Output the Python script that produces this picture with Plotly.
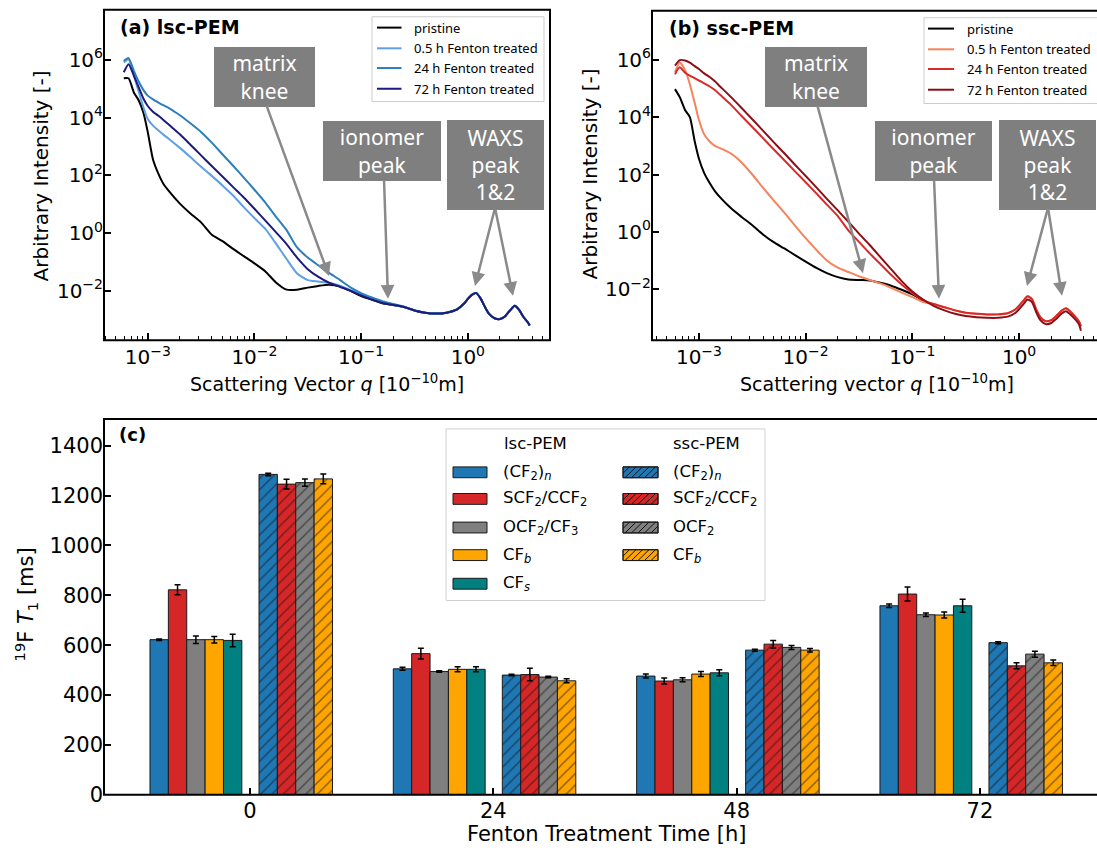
import plotly.graph_objects as go

W, H = 1097, 858

# ---------------- SAXS / WAXS curves ----------------
# scattering vector q [1e-10 m]
q = [5.96e-4, 6.61e-4, 7.41e-4, 8.22e-4, 9.12e-4, 1.00e-3, 1.12e-3, 1.26e-3, 1.41e-3, 1.58e-3,
     2.00e-3, 2.51e-3, 3.16e-3, 3.98e-3, 5.01e-3, 6.31e-3, 7.94e-3, 1.00e-2, 1.26e-2, 1.58e-2,
     2.00e-2, 2.51e-2, 3.16e-2, 3.98e-2, 5.01e-2, 6.31e-2, 7.94e-2,
     0.100, 0.126, 0.158, 0.200, 0.251, 0.316, 0.398, 0.501, 0.631, 0.794,
     0.912, 1.00, 1.10, 1.20, 1.32, 1.45, 1.58, 1.78, 2.00, 2.24,
     2.51, 2.75, 3.02, 3.31, 3.63, 3.80]

# log10 of the arbitrary intensity, lsc-PEM
logI_lsc_pristine = [5.36, 5.36, 4.87, 4.60, 4.16, 3.50, 2.55, 2.05, 1.69, 1.45,
                     1.02, 0.68, 0.37, -0.06, -0.28, -0.55, -0.80, -1.05, -1.32, -1.70,
                     -1.96, -1.96, -1.89, -1.83, -1.79, -1.84, -2.00,
                     -2.18, -2.31, -2.43, -2.49, -2.56, -2.68, -2.76, -2.79, -2.76, -2.64,
                     -2.46, -2.28, -2.13, -2.08, -2.27, -2.57, -2.80, -2.95, -2.98, -2.88,
                     -2.66, -2.52, -2.66, -2.90, -3.08, -3.20]
logI_lsc_05h = [5.91, 6.02, 5.45, 4.90, 4.35, 3.95, 3.72, 3.55, 3.40, 3.26,
                2.95, 2.63, 2.30, 1.98, 1.65, 1.30, 0.90, 0.52, 0.15, -0.35,
                -0.90, -1.40, -1.63, -1.68, -1.73, -1.82, -1.98,
                -2.13, -2.28, -2.41, -2.48, -2.56, -2.68, -2.76, -2.79, -2.76, -2.64,
                -2.46, -2.28, -2.13, -2.08, -2.27, -2.57, -2.80, -2.95, -2.98, -2.88,
                -2.66, -2.52, -2.66, -2.90, -3.08, -3.20]
logI_lsc_24h = [5.96, 6.06, 5.62, 5.25, 4.95, 4.76, 4.63, 4.52, 4.42, 4.33,
                4.08, 3.80, 3.50, 3.13, 2.73, 2.33, 1.92, 1.50, 1.06, 0.58,
                0.10, -0.50, -0.85, -1.12, -1.38, -1.62, -1.88,
                -2.08, -2.23, -2.36, -2.46, -2.54, -2.68, -2.76, -2.79, -2.76, -2.64,
                -2.46, -2.28, -2.13, -2.08, -2.27, -2.57, -2.80, -2.95, -2.98, -2.88,
                -2.66, -2.52, -2.66, -2.90, -3.08, -3.20]
logI_lsc_72h = [5.57, 5.85, 5.45, 5.05, 4.65, 4.40, 4.20, 4.06, 3.91, 3.75,
                3.42, 3.06, 2.69, 2.32, 1.96, 1.59, 1.23, 0.84, 0.44, 0.04,
                -0.38, -0.85, -1.25, -1.52, -1.72, -1.86, -2.00,
                -2.16, -2.30, -2.42, -2.49, -2.56, -2.68, -2.76, -2.79, -2.76, -2.64,
                -2.46, -2.28, -2.13, -2.08, -2.27, -2.57, -2.80, -2.95, -2.98, -2.88,
                -2.66, -2.52, -2.66, -2.90, -3.08, -3.20]

# log10 of the arbitrary intensity, ssc-PEM (pristine scan stops at q ~ 0.13)
logI_ssc_pristine = [4.98, 4.70, 4.25, 4.00, 3.16, 2.55, 2.05, 1.70, 1.42, 1.20,
                     0.82, 0.52, 0.23, -0.09, -0.36, -0.58, -0.81, -1.04, -1.26, -1.44,
                     -1.58, -1.66, -1.68, -1.70, -1.78, -1.88, -2.02, -2.18, -2.40]
logI_ssc_05h = [5.57, 5.91, 5.65, 5.15, 4.50, 3.90, 3.40, 3.15, 3.00, 2.92,
                2.73, 2.42, 2.00, 1.54, 1.10, 0.67, 0.22, -0.22, -0.63, -1.00,
                -1.25, -1.40, -1.55, -1.68, -1.80, -1.95, -2.12, -2.28, -2.45,
                -2.52, -2.63, -2.74, -2.82, -2.86, -2.88, -2.88, -2.83, -2.72, -2.58,
                -2.40, -2.25, -2.35, -2.72, -2.98, -3.12, -3.08, -2.93, -2.75, -2.67,
                -2.78, -2.93, -3.12, -3.30]
logI_ssc_24h = [5.50, 5.74, 5.55, 5.45, 5.36, 5.28, 5.18, 5.07, 4.95, 4.78,
                4.43, 4.04, 3.66, 3.27, 2.88, 2.50, 2.11, 1.73, 1.34, 0.95,
                0.55, 0.05, -0.35, -0.75, -1.12, -1.50, -1.84, -2.14, -2.38,
                -2.52, -2.63, -2.74, -2.82, -2.86, -2.88, -2.88, -2.83, -2.72, -2.58,
                -2.40, -2.25, -2.35, -2.72, -2.98, -3.12, -3.08, -2.93, -2.75, -2.67,
                -2.78, -2.93, -3.12, -3.30]
logI_ssc_72h = [5.80, 5.99, 5.98, 5.90, 5.78, 5.68, 5.53, 5.40, 5.25, 5.07,
                4.70, 4.32, 3.93, 3.53, 3.13, 2.74, 2.34, 1.95, 1.55, 1.15,
                0.75, 0.35, -0.06, -0.46, -0.88, -1.30, -1.72, -2.08, -2.36,
                -2.58, -2.74, -2.86, -2.94, -2.98, -3.00, -3.00, -2.95, -2.84, -2.70,
                -2.52, -2.36, -2.45, -2.82, -3.08, -3.22, -3.18, -3.03, -2.85, -2.77,
                -2.88, -3.03, -3.22, -3.45]

saxs_labels = ["pristine", "0.5 h Fenton treated", "24 h Fenton treated", "72 h Fenton treated"]
lsc_colors = ["#000000", "#5f9fe8", "#2a7fbc", "#1b1b7c"]
ssc_colors = ["#000000", "#f5845c", "#d92a2a", "#8c0f15"]

# ---------------- 19F T1 relaxation ----------------
times = ["0", "24", "48", "72"]

lsc_names = ["(CF<sub>2</sub>)<sub><i>n</i></sub>", "SCF<sub>2</sub>/CCF<sub>2</sub>",
             "OCF<sub>2</sub>/CF<sub>3</sub>", "CF<sub><i>b</i></sub>", "CF<sub><i>s</i></sub>"]
lsc_T1 = [[622, 505, 476, 758],
          [822, 566, 456, 805],
          [622, 494, 461, 722],
          [622, 503, 484, 721],
          [619, 503, 489, 758]]
lsc_err = [[3, 6, 8, 7],
           [20, 22, 12, 28],
           [15, 3, 8, 7],
           [13, 10, 10, 12],
           [25, 10, 12, 26]]

ssc_names = ["(CF<sub>2</sub>)<sub><i>n</i></sub>", "SCF<sub>2</sub>/CCF<sub>2</sub>",
             "OCF<sub>2</sub>", "CF<sub><i>b</i></sub>"]
ssc_T1 = [[1285, 480, 580, 610],
          [1246, 482, 604, 517],
          [1252, 472, 591, 564],
          [1267, 457, 580, 529]]
ssc_err = [[5, 3, 4, 4],
           [20, 25, 15, 12],
           [15, 3, 8, 12],
           [20, 8, 7, 11]]

bar_colors = ["#1f77b4", "#d62728", "#7f7f7f", "#ffa500", "#008080"]


# ---------------- helpers (pixel -> paper) ----------------
def fx(x):
    return x / W


def fy(y):
    return 1 - y / H


FONT = "DejaVu Sans"
fig = go.Figure()

# SAXS traces
for logs, col, nm in zip([logI_lsc_pristine, logI_lsc_05h, logI_lsc_24h, logI_lsc_72h],
                         lsc_colors, saxs_labels):
    fig.add_trace(go.Scatter(x=q[:len(logs)], y=[10 ** v for v in logs], mode="lines",
                             line=dict(color=col, width=2, shape="spline", smoothing=0.6),
                             name=nm, xaxis="x", yaxis="y"))
for logs, col, nm in zip([logI_ssc_pristine, logI_ssc_05h, logI_ssc_24h, logI_ssc_72h],
                         ssc_colors, saxs_labels):
    fig.add_trace(go.Scatter(x=q[:len(logs)], y=[10 ** v for v in logs], mode="lines",
                             line=dict(color=col, width=2, shape="spline", smoothing=0.6),
                             name=nm, xaxis="x2", yaxis="y2"))

# T1 bars
bar_w = 0.0755
lsc_left = -0.411
ssc_left = 0.037
for j, (vals, errs) in enumerate(zip(lsc_T1, lsc_err)):
    xs = [i + lsc_left + bar_w * (j + 0.5) for i in range(len(times))]
    fig.add_trace(go.Bar(x=xs, y=vals, width=bar_w, xaxis="x3", yaxis="y3", textposition="none",
                         marker=dict(color=bar_colors[j], line=dict(color="#1a1a1a", width=1)),
                         error_y=dict(type="data", array=errs, color="black", thickness=1.5, width=3)))
for j, (vals, errs) in enumerate(zip(ssc_T1, ssc_err)):
    xs = [i + ssc_left + bar_w * (j + 0.5) for i in range(len(times))]
    fig.add_trace(go.Bar(x=xs, y=vals, width=bar_w, xaxis="x3", yaxis="y3", textposition="none",
                         marker=dict(color=bar_colors[j], line=dict(color="#1a1a1a", width=1),
                                     pattern=dict(shape="/", fgcolor="#111111", bgcolor=bar_colors[j],
                                                  fillmode="overlay", size=8, solidity=0.18)),
                         error_y=dict(type="data", array=errs, color="black", thickness=1.5, width=3)))

# ---------------- axes ----------------
sup = lambda e: "10<sup>%s</sup>" % e.replace("-", "\u2212")
minor_q = [m * 10.0 ** k for k in range(-4, 1) for m in range(2, 10)]
tickfont_saxs = dict(family=FONT, size=20, color="black")


def log_x(dom, rng, anchor):
    return dict(type="log", domain=dom, range=rng, anchor=anchor, showgrid=False, zeroline=False,
                showline=False, ticks="inside", ticklen=7, tickwidth=1.5, tickcolor="black",
                tickvals=[1e-3, 1e-2, 1e-1, 1], ticktext=[sup("-3"), sup("-2"), sup("-1"), sup("0")],
                tickfont=tickfont_saxs, ticklabelstandoff=3,
                minor=dict(tickvals=minor_q, ticks="inside", ticklen=4, tickwidth=1, tickcolor="black"))


def log_y(dom, rng, anchor):
    return dict(type="log", domain=dom, range=rng, anchor=anchor, showgrid=False, zeroline=False,
                showline=False, ticks="inside", ticklen=7, tickwidth=1.5, tickcolor="black",
                tickvals=[1e-2, 1, 1e2, 1e4, 1e6],
                ticktext=[sup("-2"), sup("0"), sup("2"), sup("4"), sup("6")],
                tickfont=tickfont_saxs)


fig.update_layout(
    width=W, height=H, margin=dict(l=0, r=0, t=0, b=0),
    paper_bgcolor="white", plot_bgcolor="white", showlegend=False, barmode="overlay",
    font=dict(family=FONT, color="black"),
    xaxis=log_x([fx(104), fx(550)], [-3.41, 0.77], "y"),
    yaxis=log_y([fy(345), fy(10)], [-3.71, 7.73], "x"),
    xaxis2=log_x([fx(652), 1.0], [-3.44, 0.73], "y2"),
    yaxis2=log_y([fy(345), fy(11)], [-3.78, 7.71], "x2"),
    xaxis3=dict(domain=[fx(104), 1.0], range=[-0.6, 3.481], anchor="y3", showgrid=False,
                zeroline=False, showline=False, ticks="inside", ticklen=7, tickwidth=1.5,
                tickcolor="black", tickvals=list(range(len(times))), ticktext=times,
                tickfont=dict(family=FONT, size=21, color="black"), ticklabelstandoff=1),
    yaxis3=dict(domain=[fy(806), fy(425)], range=[0, 1507], anchor="x3", showgrid=False,
                zeroline=False, showline=False, ticks="inside", ticklen=7, tickwidth=1.5,
                tickcolor="black", tickvals=list(range(0, 1401, 200)),
                tickfont=dict(family=FONT, size=21, color="black")),
)

shapes = []
annotations = []


def rect(x0, y0, x1, y1, **kw):
    d = dict(type="rect", xref="paper", yref="paper", x0=fx(x0), x1=fx(x1), y0=fy(y1), y1=fy(y0),
             layer="above")
    d.update(kw)
    shapes.append(d)


def seg(x0, y0, x1, y1, color, width):
    shapes.append(dict(type="line", xref="paper", yref="paper", x0=fx(x0), y0=fy(y0), x1=fx(x1),
                       y1=fy(y1), line=dict(color=color, width=width), layer="above"))


def text(x, y, s, size, xanchor="left", family=FONT, color="black", angle=0):
    annotations.append(dict(xref="paper", yref="paper", x=fx(x), y=fy(y), text=s, showarrow=False,
                            xanchor=xanchor, yanchor="middle", textangle=angle,
                            font=dict(family=family, size=size, color=color)))


# axes frames (right edges of b and c run past the page edge)
for x0, y0, x1, y1 in [(104, 10, 550, 345), (652, 11, 1112, 345), (104, 425, 1112, 806)]:
    rect(x0, y0, x1, y1, line=dict(color="black", width=2), fillcolor="rgba(0,0,0,0)")

# axis titles
text(327, 388, "Scattering Vector <i>q</i> [10<sup>\u221210</sup>m]", 19, "center")
text(877, 388, "Scattering vector <i>q</i> [10<sup>\u221210</sup>m]", 19, "center")
text(41, 179, "Arbitrary Intensity [-]", 20, "center", angle=-90)
text(590, 177, "Arbitrary Intensity [-]", 20, "center", angle=-90)
text(607, 846, "Fenton Treatment Time [h]", 21, "center")
text(26, 613, "<sup>19</sup>F <i>T</i><sub>1</sub> [ms]", 21, "center", angle=-90)

# panel labels
text(118, 27, "<b>(a) lsc-PEM</b>", 19)
text(667, 28, "<b>(b) ssc-PEM</b>", 19)
text(117, 441, "<b>(c)</b>", 18)

# line legends of (a) and (b)
for (bx0, by0, bx1, by1, lx0, lx1, tx, rows, cols) in [
        (372, 17, 544, 103, 377, 401.5, 412, [28, 49, 69, 90], lsc_colors),
        (924, 18, 1112, 105, 928, 954, 965, [29, 50, 70, 91], ssc_colors)]:
    rect(bx0, by0, bx1, by1, line=dict(color="#cccccc", width=1), fillcolor="rgba(255,255,255,0.85)")
    for r, c, lab in zip(rows, cols, saxs_labels):
        seg(lx0, r, lx1, r, c, 2)
        text(tx, r, lab, 13, family="Noto Sans")

# grey callout boxes
box_style = dict(showarrow=False, bgcolor="#7f7f7f", borderpad=0, borderwidth=0,
                 font=dict(family="Noto Sans", size=21, color="white"), xanchor="center", yanchor="middle",
                 xref="paper", yref="paper")
for cx, cy, w, h, s in [(264.5, 78, 101, 60, "matrix<br>knee"), (382, 153, 118, 60, "ionomer<br>peak"),
                        (495.5, 167, 97, 90, "WAXS<br>peak<br>1&2"),
                        (816, 78, 102, 60, "matrix<br>knee"), (933.5, 153, 117, 60, "ionomer<br>peak"),
                        (1047.5, 167, 97, 90, "WAXS<br>peak<br>1&2")]:
    a = dict(box_style)
    a.update(x=fx(cx), y=fy(cy), width=w, height=h, text=s)
    annotations.append(a)

# callout arrows: (tail x, tail y, tip x, tip y) in page pixels
for tx0, ty0, tx1, ty1 in [(266, 108, 329, 280), (384, 183, 388, 303), (495, 212, 475, 290),
                           (495, 212, 513, 300),
                           (817, 108, 863, 277), (934, 183, 939, 303), (1048, 212, 1027, 290),
                           (1048, 212, 1062, 300)]:
    annotations.append(dict(xref="paper", yref="paper", x=fx(tx1), y=fy(ty1), ax=tx0 - tx1, ay=ty0 - ty1,
                            text="", showarrow=True, arrowhead=2, arrowsize=1.1, arrowwidth=2.5,
                            arrowcolor="#8a8a8a", standoff=0))

# legend of (c)
rect(446, 435, 765, 609, line=dict(color="#d0d0d0", width=1), fillcolor="rgba(255,255,255,0.85)")
text(502, 450, "lsc-PEM", 16.5)
text(671, 450, "ssc-PEM", 16.5)
leg_rows = [479, 506, 535, 563, 592]


def hatch(x0, x1, yc, hh, spacing=6.5):
    y0, y1 = yc - hh, yc + hh
    h = y1 - y0
    c = x0 - h
    while c < x1:
        t0 = max(0.0, x0 - c)
        t1 = min(h, x1 - c)
        if t1 > t0:
            seg(c + t0, y1 - t0, c + t1, y1 - t1, "#111111", 1)
        c += spacing


for j, lab in enumerate(lsc_names):
    yc = leg_rows[j]
    rect(453, yc - 5.5, 487, yc + 5.5, fillcolor=bar_colors[j], line=dict(color="#1a1a1a", width=1))
    text(501, yc, lab, 16.5)
for j, lab in enumerate(ssc_names):
    yc = leg_rows[j]
    rect(623, yc - 5.5, 658, yc + 5.5, fillcolor=bar_colors[j], line=dict(color="#1a1a1a", width=1))
    hatch(623, 658, yc, 5.5)
    rect(623, yc - 5.5, 658, yc + 5.5, fillcolor="rgba(0,0,0,0)", line=dict(color="#1a1a1a", width=1))
    text(671, yc, lab, 16.5)

fig.update_layout(shapes=shapes, annotations=annotations)
fig.write_html("out.html")
